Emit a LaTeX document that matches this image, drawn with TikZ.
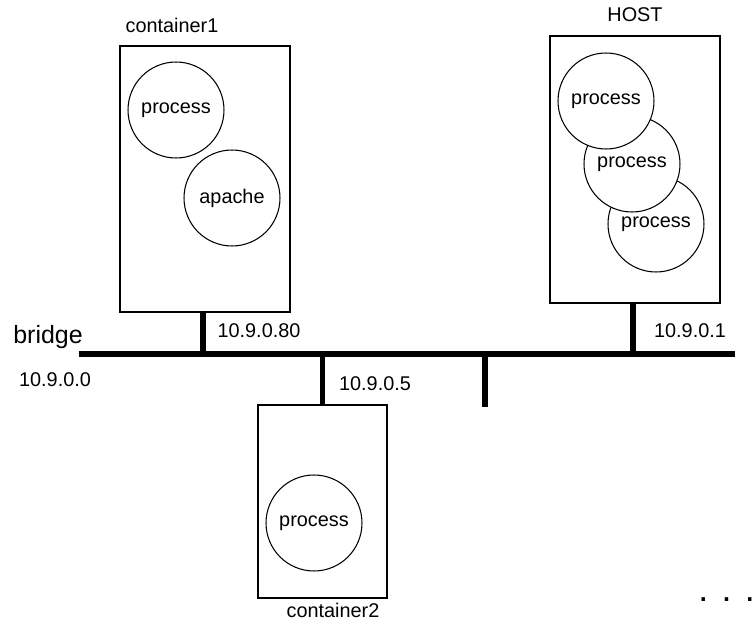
\documentclass[tikz,border=0pt]{standalone}
\usepackage{fontspec}
\setmainfont{Liberation Sans}
\usetikzlibrary{calc}

\begin{document}
\begin{tikzpicture}[x=0.02cm,y=-0.02cm,
    box/.style={draw,line width=0.6pt,inner sep=0pt},
    proc/.style={circle,draw,fill=white,line width=0.6pt,minimum size=1.92cm,inner sep=0pt,font=\fontsize{11.3}{13}\selectfont},
    lbl/.style={inner sep=0pt,font=\fontsize{11.3}{13}\selectfont},
    wire/.style={line width=3.1pt}]
        \useasboundingbox (0,0) rectangle (755,625);
        % bridge
        \coordinate (busl) at (79,354);
        \coordinate (busr) at (735,354);
        \draw[wire] (busl) -- (busr);
        \node[lbl,font=\fontsize{14.2}{16}\selectfont] (bridge) at (48,337) {bridge};
        \node[lbl] (net) at (55,380) {10.9.0.0};
        % container1
        \node[box,minimum width=3.4cm,minimum height=5.32cm] (c1) at (205,179) {};
        \node[lbl] (c1name) at (172,25) {container1};
        \node[proc] (c1p) at (176,110) {process};
        \node[proc] (c1a) at (232,198) {apache};
        \draw[wire] (c1.south -| 203,0) -- (busl -| 203,0);
        \node[lbl] (c1ip) at (259,331) {10.9.0.80};
        % container2
        \node[box,minimum width=2.58cm,minimum height=3.86cm] (c2) at (322.5,501.5) {};
        \node[lbl] (c2name) at (333,610) {container2};
        \node[proc] (c2p) at (314,523) {process};
        \draw[wire] (c2.north) -- (c2.north |- busl);
        \node[lbl] (c2ip) at (375,384) {10.9.0.5};
        % free port
        \coordinate (free) at (485,407);
        \draw[wire] (free |- busl) -- (free);
        % host
        \node[box,minimum width=3.4cm,minimum height=5.34cm] (host) at (635,169.5) {};
        \node[lbl] (hostname) at (635,15) {HOST};
        \node[proc] (hp3) at (656,224) {process};
        \node[proc] (hp2) at (632,164) {process};
        \node[proc] (hp1) at (606,101) {process};
        \draw[wire] (host.south -| 633,0) -- (busl -| 633,0);
        \node[lbl] (hostip) at (690,331) {10.9.0.1};
        % more
        \node[inner sep=0pt,anchor=base west,font=\fontsize{20.4}{24}\selectfont] (more) at (698,601) {. . .};
\end{tikzpicture}
\end{document}
